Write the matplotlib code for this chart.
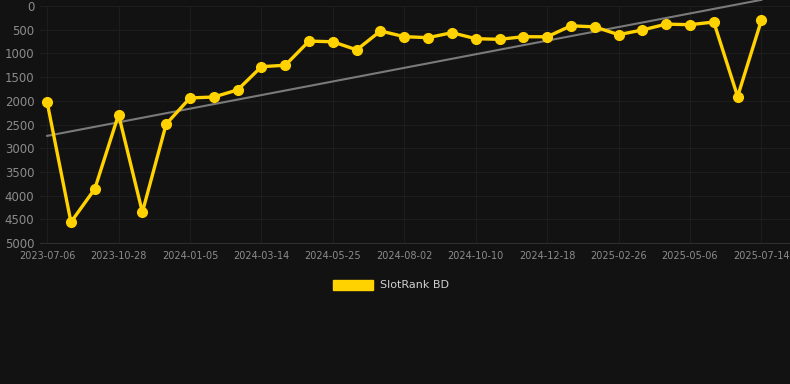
import matplotlib
matplotlib.use("Agg")
import matplotlib.pyplot as plt
import matplotlib.patches as mpatches
import numpy as np

# rank values per snapshot (lower is better, axis inverted)
ranks = [2030, 4560, 3860, 2290, 4350, 2490, 1940, 1920, 1770, 1280,
         1250, 740, 755, 925, 527, 647, 668, 563, 690, 703,
         648, 650, 418, 440, 605, 506, 382, 395, 338, 1910, 298]
tick_labels = ["2023-07-06", "2023-10-28", "2024-01-05", "2024-03-14",
               "2024-05-25", "2024-08-02", "2024-10-10", "2024-12-18",
               "2025-02-26", "2025-05-06", "2025-07-14"]
trend_ends = [2740, -130]
series_name = "SlotRank BD"

bg = "#121212"
gold = "#FFD200"
text_col = "#8c8c8c"
grid_col = "#1d1d1d"

fig = plt.figure(figsize=(7.9, 3.84), dpi=100, facecolor=bg)
ax = fig.add_axes([40 / 790, 1 - 243 / 384, 750 / 790, 237 / 384])
ax.set_facecolor(bg)

x = np.arange(len(ranks))
ax.plot([x[0], x[-1]], trend_ends, color="#7a7a7a", lw=1.5, zorder=2, clip_on=False)
ax.plot(x, ranks, color=gold, lw=2.4, marker="o", markersize=7, zorder=3, clip_on=False)

ax.set_xlim(-0.3, 31.2)
ax.set_ylim(5000, 0)
ax.set_yticks(range(0, 5001, 500))
ax.set_xticks(x[::3])
ax.set_xticklabels(tick_labels)

ax.tick_params(axis="y", colors=text_col, labelsize=8.5, length=0, pad=4)
ax.tick_params(axis="x", colors=text_col, labelsize=7, length=0, pad=6)
ax.grid(True, color=grid_col, lw=0.8)
ax.set_axisbelow(True)
for name, sp in ax.spines.items():
    sp.set_visible(name == "bottom")
ax.spines["bottom"].set_color("#2e2e2e")

handle = mpatches.Patch(color=gold, label=series_name)
fig.legend(handles=[handle], loc="center", bbox_to_anchor=(0.495, 1 - 285 / 384),
           frameon=False, labelcolor="#d0d0d0", fontsize=8,
           handlelength=3.6, handleheight=1.0, handletextpad=0.6)

fig.savefig("out.png", facecolor=bg)
